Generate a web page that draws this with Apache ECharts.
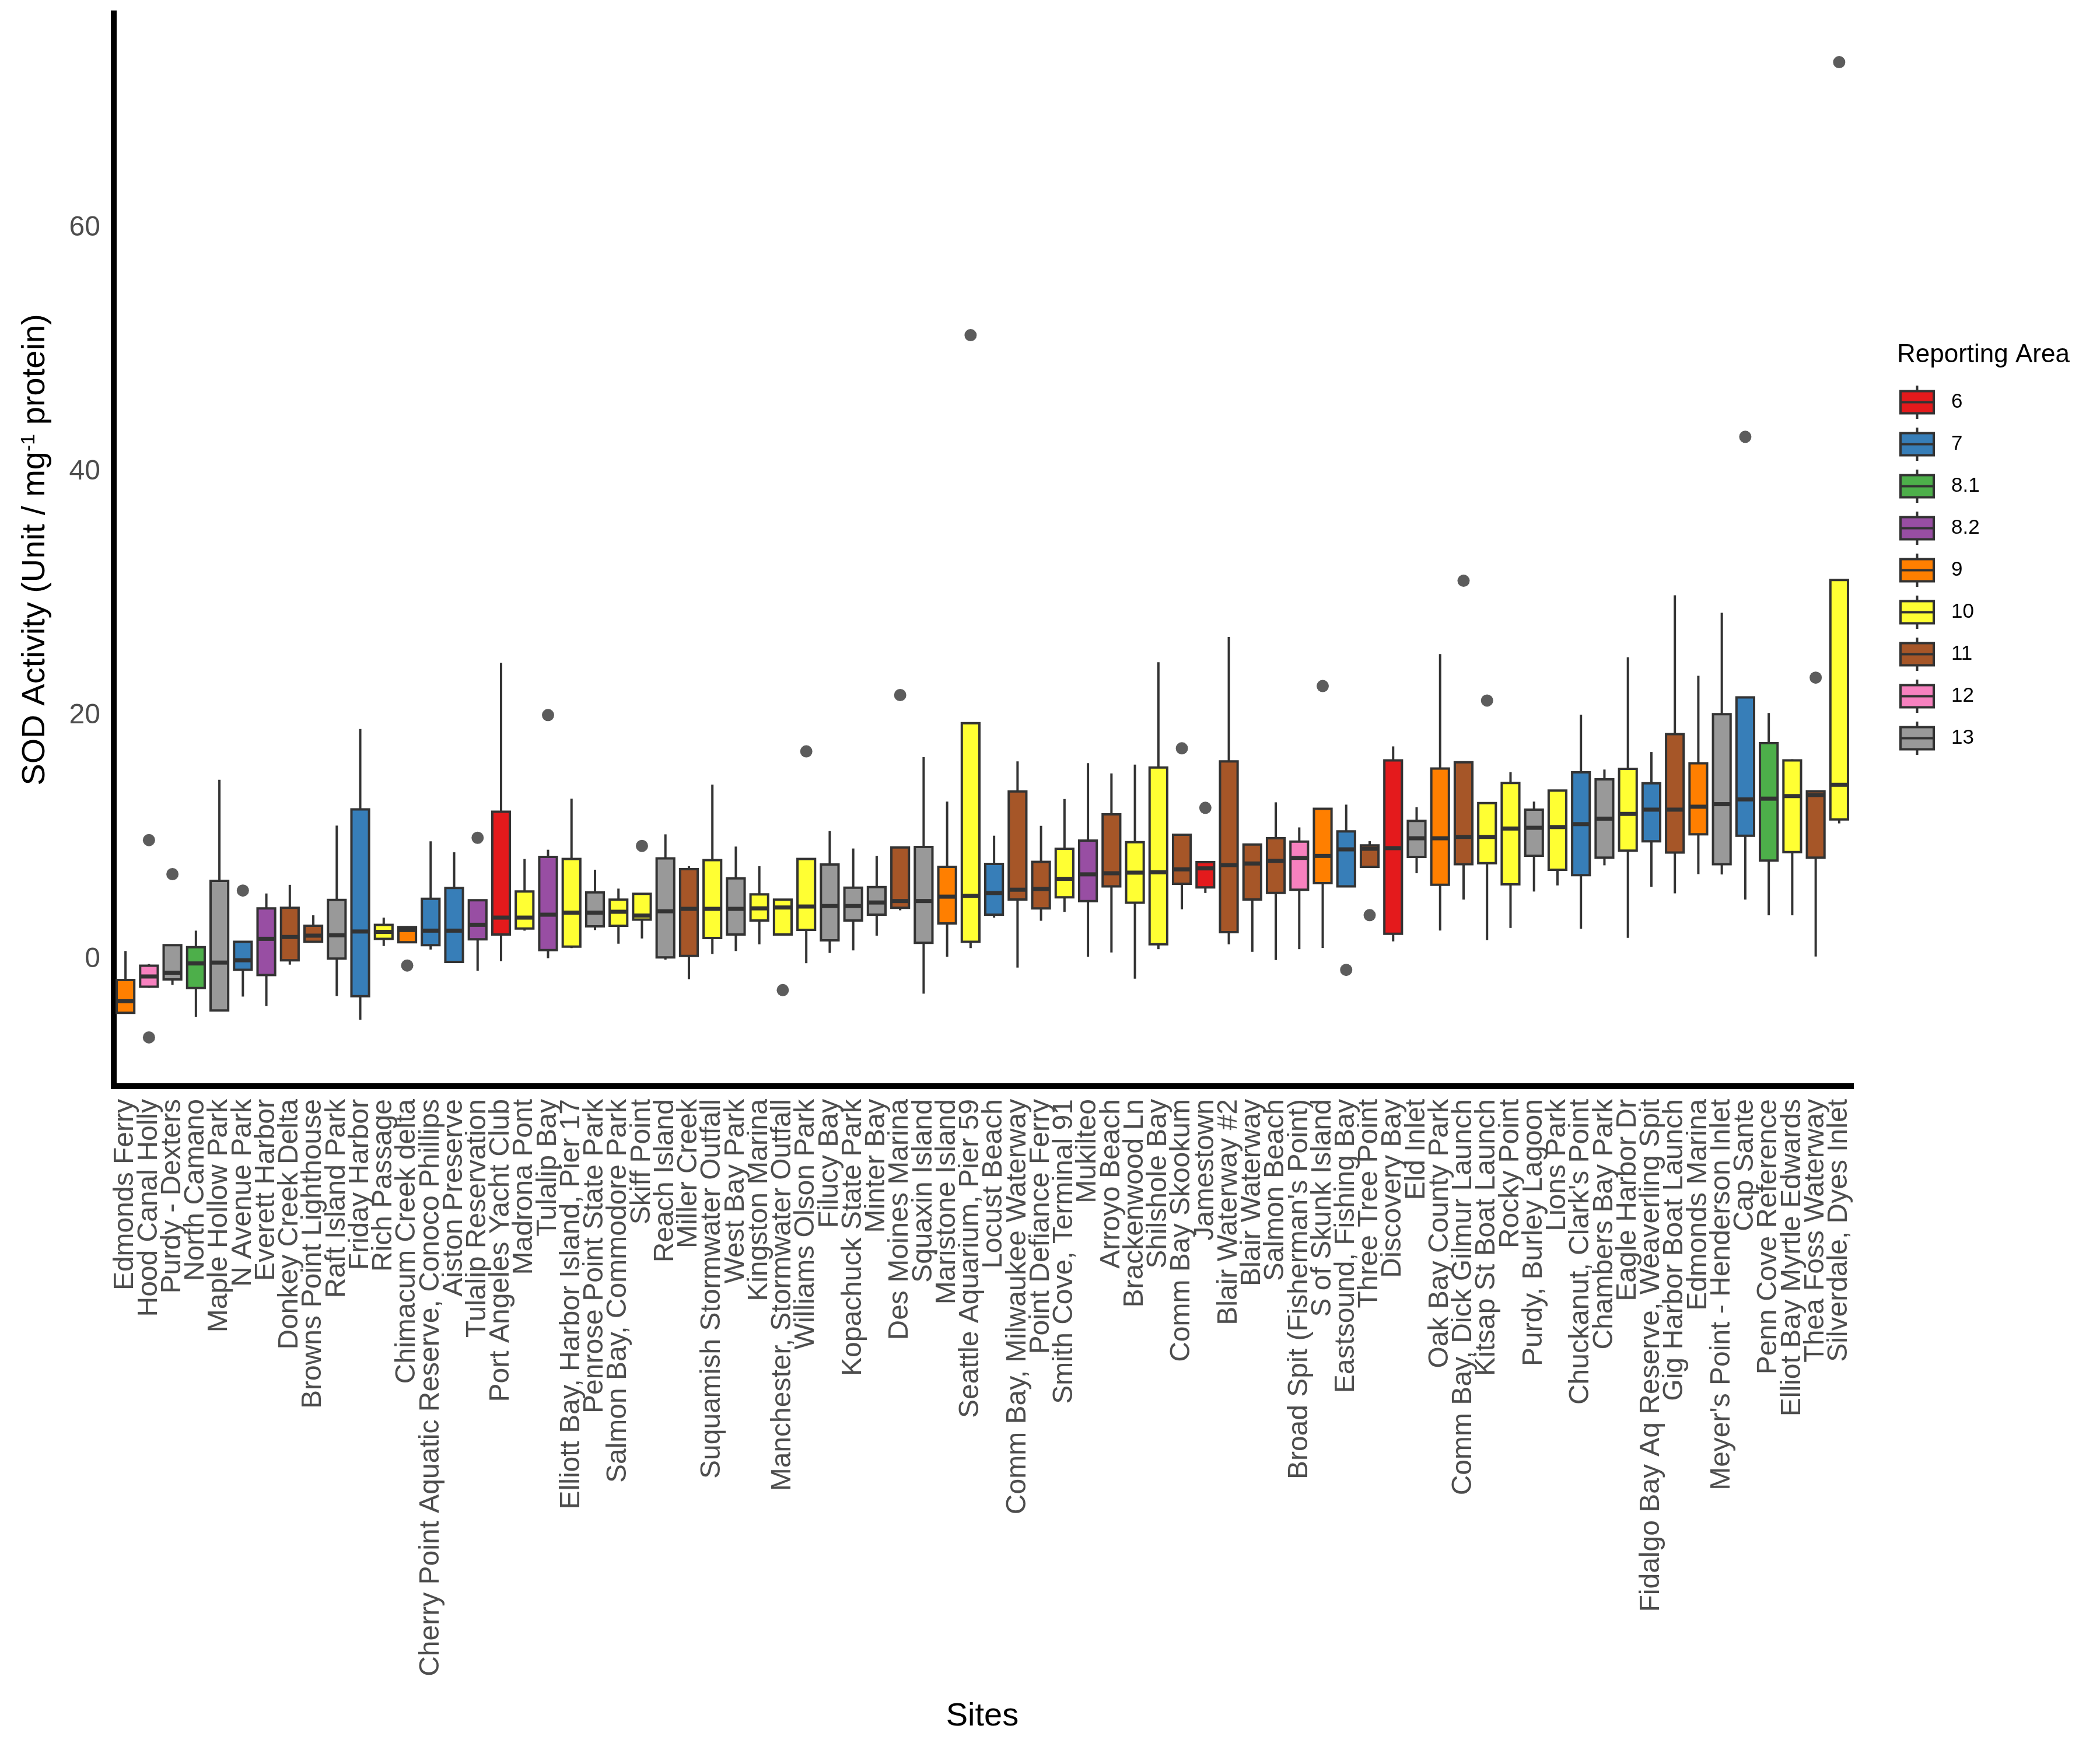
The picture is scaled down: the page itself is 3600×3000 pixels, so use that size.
<!DOCTYPE html>
<html>
<head>
<meta charset="utf-8">
<script src="https://cdn.jsdelivr.net/npm/echarts@6/dist/echarts.min.js"></script>
<style>html,body{margin:0;padding:0;background:#fff}#chart{width:3600px;height:3000px}</style>
</head>
<body>
<div id="chart"></div>
<script>
const sites = ["Edmonds Ferry","Hood Canal Holly","Purdy - Dexters","North Camano","Maple Hollow Park","N Avenue Park","Everett Harbor","Donkey Creek Delta","Browns Point Lighthouse","Raft Island Park","Friday Harbor","Rich Passage","Chimacum Creek delta","Cherry Point Aquatic Reserve, Conoco Phillips","Aiston Preserve","Tulalip Reservation","Port Angeles Yacht Club","Madrona Pont","Tulalip Bay","Elliott Bay, Harbor Island, Pier 17","Penrose Point State Park","Salmon Bay, Commodore Park","Skiff Point","Reach Island","Miller Creek","Suquamish Stormwater Outfall","West Bay Park","Kingston Marina","Manchester, Stormwater Outfall","Williams Olson Park","Filucy Bay","Kopachuck State Park","Minter Bay","Des Moines Marina","Squaxin Island","Maristone Island","Seattle Aquarium, Pier 59","Locust Beach","Comm Bay, Milwaukee Waterway","Point Defiance Ferry","Smith Cove, Terminal 91","Mukilteo","Arroyo Beach","Brackenwood Ln","Shilshole Bay","Comm Bay Skookum","Jamestown","Blair Waterway #2","Blair Waterway","Salmon Beach","Broad Spit (Fisherman's Point)","S of Skunk Island","Eastsound, Fishing Bay","Three Tree Point","Discovery Bay","Eld Inlet","Oak Bay County Park","Comm Bay, Dick Gilmur Launch","Kitsap St Boat Launch","Rocky Point","Purdy, Burley Lagoon","Lions Park","Chuckanut, Clark's Point","Chambers Bay Park","Eagle Harbor Dr","Fidalgo Bay Aq Reserve, Weaverling Spit","Gig Harbor Boat Launch","Edmonds Marina","Meyer's Point - Henderson Inlet","Cap Sante","Penn Cove Reference","Elliot Bay Myrtle Edwards","Thea Foss Waterway","Silverdale, Dyes Inlet"];
const reportingArea = ["9","12","13","8.1","13","7","8.2","11","11","13","7","10","9","7","7","8.2","6","10","8.2","10","13","10","10","13","11","10","13","10","10","10","13","13","13","11","13","9","10","7","11","11","10","8.2","11","10","10","11","6","11","11","11","12","9","7","11","6","13","9","11","10","10","13","10","7","13","10","7","11","9","13","7","8.1","10","11","10"];
const whiskerLow = [-4.42,-2.35,-2.11,-4.73,-4.21,-3.07,-3.85,-0.45,1.43,-3.02,-4.97,1.08,1.39,0.79,-0.28,-0.95,-0.16,2.34,0.08,0.91,2.39,1.27,1.7,-0.04,-1.64,0.43,0.67,1.22,2.03,-0.33,0.51,0.72,1.93,4.01,-2.83,0.2,0.91,3.41,-0.69,3.15,3.88,0.2,0.55,-1.6,0.82,4.09,5.43,1.22,0.6,-0.07,0.82,0.92,5.97,7.58,1.46,7.05,2.35,4.89,1.57,2.56,5.55,6.05,2.5,7.7,1.75,5.93,5.4,6.98,6.95,4.89,3.6,3.6,0.22,11.14];
const boxQ1 = [-4.4,-2.26,-1.66,-2.37,-4.21,-0.87,-1.3,-0.09,1.43,0.05,-3.04,1.67,1.39,1.15,-0.23,1.63,2.03,2.51,0.74,1.03,2.7,2.74,3.24,0.15,0.27,1.74,2.03,3.17,2.03,2.41,1.55,3.17,3.65,4.22,1.34,2.93,1.43,3.65,4.9,4.17,5.08,4.76,5.97,4.63,1.22,6.19,5.89,2.21,4.9,5.43,5.7,6.24,5.97,7.58,2.08,8.39,6.11,7.79,7.88,6.14,8.48,7.34,6.89,8.33,8.9,9.67,8.75,10.24,7.79,10.12,8.09,8.78,8.33,11.47];
const boxMedian = [-3.45,-1.42,-1.11,-0.35,-0.28,-0.09,1.67,1.82,1.93,1.96,2.27,2.24,2.39,2.34,2.34,2.82,3.41,3.41,3.65,3.82,3.82,3.89,3.58,3.93,4.13,4.13,4.13,4.17,4.24,4.32,4.36,4.36,4.65,4.77,4.77,5.13,5.2,5.43,5.7,5.76,6.59,6.96,7.05,7.1,7.13,7.37,7.45,7.72,7.85,8.07,8.31,8.47,9.01,9.06,9.11,9.92,9.92,10.03,10.03,10.72,10.78,10.84,11.08,11.53,11.92,12.27,12.27,12.51,12.72,13.11,13.17,13.38,13.47,14.31];
const boxQ3 = [-1.71,-0.54,1.15,0.98,6.43,1.43,4.17,4.22,2.74,4.86,12.29,2.82,2.63,4.96,5.84,4.84,12.1,5.55,8.39,8.22,5.48,4.89,5.36,8.27,7.39,8.13,6.63,5.32,4.89,8.22,7.77,5.86,5.91,9.17,9.2,7.58,19.36,7.82,13.76,7.98,9.06,9.73,11.88,9.6,15.72,10.21,7.96,16.23,9.41,9.92,9.65,12.34,10.48,9.33,16.31,11.34,15.64,16.16,12.81,14.46,12.27,13.83,15.33,14.76,15.62,14.43,18.46,16.07,20.11,21.48,17.72,16.31,13.77,31.11];
const whiskerHigh = [0.67,-0.4,1.15,2.34,14.72,1.43,5.39,6.1,3.6,10.96,18.89,3.41,2.7,9.67,8.77,4.84,24.32,8.22,8.98,13.17,7.34,5.79,5.36,10.24,7.63,14.32,9.24,7.63,4.89,8.22,10.51,9.08,8.48,9.17,16.58,12.93,19.36,10.13,16.23,10.94,13.14,16.09,15.24,15.96,24.37,10.21,7.96,26.43,9.46,12.87,10.81,12.34,12.68,9.68,17.46,12.47,25.04,16.16,12.81,15.35,12.93,13.83,20.05,15.56,24.77,17.0,29.86,23.25,28.42,21.48,20.2,16.4,13.8,31.11];
const outlierSites = ["Hood Canal Holly","Hood Canal Holly","Purdy - Dexters","N Avenue Park","Chimacum Creek delta","Tulalip Reservation","Tulalip Bay","Skiff Point","Manchester, Stormwater Outfall","Williams Olson Park","Des Moines Marina","Seattle Aquarium, Pier 59","Comm Bay Skookum","Jamestown","S of Skunk Island","Eastsound, Fishing Bay","Three Tree Point","Comm Bay, Dick Gilmur Launch","Kitsap St Boat Launch","Cap Sante","Thea Foss Waterway","Silverdale, Dyes Inlet"];
const outlierValues = [9.77,-6.42,6.98,5.63,-0.52,9.96,20.03,9.29,-2.54,17.05,21.67,51.2,17.3,12.42,22.41,-0.88,3.61,31.05,21.22,42.86,23.1,73.6];
const areaLevels = ["6","7","8.1","8.2","9","10","11","12","13"];
const areaColors = ["#E41A1C","#377EB8","#4DAF4A","#984EA3","#FF7F00","#FFFF33","#A65628","#F781BF","#999999"];

const FONT = "'Liberation Sans', Arial, sans-serif";
const EDGE = '#333333';

function renderBox(params, api) {
  const x = api.value(0);
  const lo = api.coord([x, api.value(1)]);
  const q1 = api.coord([x, api.value(2)]);
  const md = api.coord([x, api.value(3)]);
  const q3 = api.coord([x, api.value(4)]);
  const hi = api.coord([x, api.value(5)]);
  const half = api.size([1, 0])[0] * 0.375;
  const cx = md[0];
  const fill = api.visual('color');
  return {
    type: 'group',
    children: [
      {type: 'line', shape: {x1: cx, y1: q3[1], x2: cx, y2: hi[1]}, style: {stroke: EDGE, lineWidth: 4}},
      {type: 'line', shape: {x1: cx, y1: q1[1], x2: cx, y2: lo[1]}, style: {stroke: EDGE, lineWidth: 4}},
      {type: 'rect', shape: {x: cx - half, y: q3[1], width: 2 * half, height: q1[1] - q3[1]}, style: {fill: fill, stroke: EDGE, lineWidth: 4}},
      {type: 'line', shape: {x1: cx - half, y1: md[1], x2: cx + half, y2: md[1]}, style: {stroke: EDGE, lineWidth: 7}}
    ]
  };
}

const boxSeries = areaLevels.map((area, k) => {
  const data = [];
  sites.forEach((s, i) => {
    if (reportingArea[i] === area) {
      data.push([i, whiskerLow[i], boxQ1[i], boxMedian[i], boxQ3[i], whiskerHigh[i]]);
    }
  });
  return {
    name: area,
    type: 'custom',
    renderItem: renderBox,
    itemStyle: {color: areaColors[k], borderColor: EDGE},
    encode: {x: 0, y: [1, 2, 3, 4, 5]},
    data: data,
    z: 2
  };
});

const outlierSeries = {
  name: 'outliers',
  type: 'scatter',
  symbol: 'circle',
  symbolSize: 21,
  itemStyle: {color: EDGE},
  data: outlierSites.map((s, i) => [s, outlierValues[i]]),
  z: 3
};

const legendIcon = 'path://M0,9.5H57V47.5H0Z M0,28.5H57 M28.5,0V9.5 M28.5,47.5V57';

const option = {
  animation: false,
  backgroundColor: '#ffffff',
  textStyle: {fontFamily: FONT},
  title: {
    text: 'Reporting Area',
    left: 3252,
    top: 587,
    padding: 0,
    textStyle: {fontSize: 44, fontWeight: 'normal', color: '#000000', fontFamily: FONT}
  },
  legend: {
    orient: 'vertical',
    left: 3256,
    top: 659,
    padding: 0,
    itemWidth: 57,
    itemHeight: 57,
    itemGap: 11,
    data: areaLevels.map(a => ({name: a, icon: legendIcon})),
    itemStyle: {borderColor: EDGE, borderWidth: 4},
    textStyle: {fontSize: 35, color: '#000000', fontFamily: FONT, padding: [0, 0, 0, 25]}
  },
  grid: {left: 195, top: 23, width: 2978, height: 1839, containLabel: false},
  xAxis: {
    type: 'category',
    data: sites,
    boundaryGap: true,
    name: 'Sites',
    nameLocation: 'middle',
    nameGap: 1053,
    nameTextStyle: {fontSize: 56, color: '#000000', fontFamily: FONT},
    axisLine: {onZero: false, lineStyle: {color: '#000000', width: 10, cap: 'square'}},
    axisTick: {show: false},
    splitLine: {show: false},
    axisLabel: {interval: 0, rotate: 90, fontSize: 48, color: '#4D4D4D', margin: 22, fontFamily: FONT}
  },
  yAxis: {
    type: 'value',
    min: -10.42,
    max: 77.6,
    splitNumber: 5,
    name: '{n|SOD Activity (Unit / mg}{s|-1}{n| protein)}',
    nameLocation: 'middle',
    nameGap: 106,
    nameTextStyle: {
      fontSize: 56, color: '#000000', fontFamily: FONT,
      rich: {
        n: {fontSize: 56, color: '#000000', fontFamily: FONT},
        s: {fontSize: 34, color: '#000000', fontFamily: FONT, verticalAlign: 'top'}
      }
    },
    axisLine: {show: true, onZero: false, lineStyle: {color: '#000000', width: 10, cap: 'square'}},
    axisTick: {show: false},
    splitLine: {show: false},
    axisLabel: {
      fontSize: 48, color: '#4D4D4D', margin: 23, fontFamily: FONT,
      showMinLabel: false, showMaxLabel: false,
      formatter: function (v) { return (Math.abs(v % 20) < 1e-9) ? String(Math.round(v)) : ''; }
    }
  },
  series: boxSeries.concat([outlierSeries])
};

const chart = echarts.init(document.getElementById('chart'), null, {renderer: 'canvas', width: 3600, height: 3000});
chart.setOption(option);
</script>
</body>
</html>
